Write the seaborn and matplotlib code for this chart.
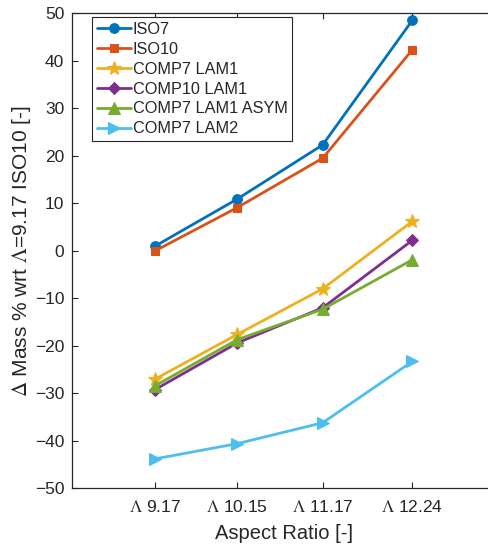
import matplotlib
matplotlib.use("Agg")
import matplotlib.pyplot as plt
import seaborn as sns
import numpy as np

aspect_ratio = [9.17, 10.15, 11.17, 12.24]
tick_labels = [r"$\Lambda$ 9.17", r"$\Lambda$ 10.15", r"$\Lambda$ 11.17", r"$\Lambda$ 12.24"]

iso7 = [1.0, 10.9, 22.3, 48.5]
iso10 = [0.0, 9.1, 19.5, 42.3]
comp7_lam1 = [-27.0, -17.6, -8.0, 6.2]
comp10_lam1 = [-29.2, -19.4, -12.0, 2.2]
comp7_lam1_asym = [-28.4, -18.7, -12.3, -1.9]
comp7_lam2 = [-43.8, -40.6, -36.2, -23.3]

series_names = ["ISO7", "ISO10", "COMP7 LAM1", "COMP10 LAM1", "COMP7 LAM1 ASYM", "COMP7 LAM2"]
series_values = [iso7, iso10, comp7_lam1, comp10_lam1, comp7_lam1_asym, comp7_lam2]
colors = ["#0072BD", "#D95319", "#EDB120", "#7E2F8E", "#77AC30", "#4DBEEE"]
markers = ["o", "s", "*", "D", "^", ">"]
msizes = [7, 5.8, 10, 6, 8, 8]

sns.set_style("ticks")
plt.rcParams["font.family"] = ["Liberation Sans", "DejaVu Sans"]
plt.rcParams["mathtext.fontset"] = "stix"
plt.rcParams["xtick.direction"] = "in"
plt.rcParams["ytick.direction"] = "in"

fig = plt.figure(figsize=(4.89, 5.46), dpi=100)
ax_left, ax_right, ax_top, ax_bottom = 72.3, 496.0, 13.3, 488.3
ax = fig.add_axes([ax_left / 489, 1 - ax_bottom / 546, (ax_right - ax_left) / 489, (ax_bottom - ax_top) / 546])

for name, vals, c, m, ms in zip(series_names, series_values, colors, markers, msizes):
    sns.lineplot(x=aspect_ratio, y=vals, ax=ax, color=c, marker=m, markersize=ms,
                 markeredgecolor=c, linewidth=2.0, label=name)

ax.set_xlim(8.18, 13.24)
ax.set_ylim(-50, 50)
ax.set_xticks(aspect_ratio)
ax.set_xticklabels(tick_labels)
ax.set_yticks(np.arange(-50, 51, 10))
ax.tick_params(axis="both", labelsize=12.5, colors="#262626", length=4, width=0.8,
               top=True, right=True, labelcolor="#262626")
ax.tick_params(axis="x", pad=8)
ax.tick_params(axis="y", pad=5.8)
for sp in ax.spines.values():
    sp.set_color("#262626")
    sp.set_linewidth(0.9)
ax.spines["right"].set_visible(False)

ax.set_xlabel("Aspect Ratio [-]", fontsize=14.5, color="#262626", labelpad=6)
ax.set_ylabel(r"$\Delta$ Mass % wrt $\Lambda$=9.17 ISO10 [-]", fontsize=15, color="#262626")
ax.yaxis.set_label_coords((33 - ax_left) / (ax_right - ax_left), 0.5)

leg = ax.legend(loc="upper left", bbox_to_anchor=(92 / 489, 1 - 17 / 546), bbox_transform=fig.transFigure,
                fontsize=11.7, frameon=True, fancybox=False, framealpha=1, edgecolor="#262626",
                borderpad=0.3, labelspacing=0.3, handlelength=2.1, handletextpad=0.1, borderaxespad=0)
leg.get_frame().set_linewidth(0.8)

fig.savefig("out.png", dpi=100, facecolor="white")
